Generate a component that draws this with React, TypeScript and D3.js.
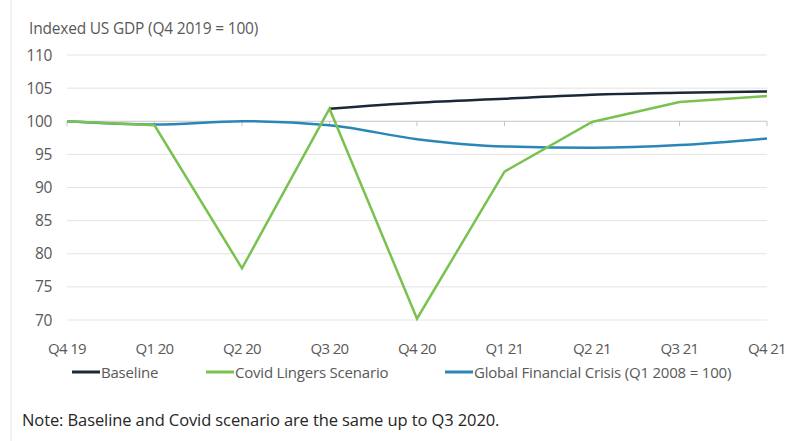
import React from "react";
import * as d3 from "d3";

const categories = ["Q4 19", "Q1 20", "Q2 20", "Q3 20", "Q4 20", "Q1 21", "Q2 21", "Q3 21", "Q4 21"];
const baseline: (number | null)[] = [null, null, null, 101.9, 102.8, 103.4, 104.0, 104.3, 104.5];
const covidLingers: number[] = [100, 99.4, 77.8, 101.9, 70.2, 92.4, 99.9, 102.9, 103.8];
const gfc: number[] = [100, 99.5, 100, 99.4, 97.3, 96.2, 96.0, 96.4, 97.4];
const yTicks = [70, 75, 80, 85, 90, 95, 100, 105, 110];

const seriesNames = ["Baseline", "Covid Lingers Scenario", "Global Financial Crisis (Q1 2008 = 100)"];
const seriesColors = ["#1b2838", "#79c24f", "#2b86b8"];

const W = 794;
const H = 441;
const FONT = "'Open Sans', 'Noto Sans', sans-serif";

export default function App() {
  const x = d3.scalePoint<string>().domain(categories).range([67, 767]);
  const y = d3.scaleLinear().domain([70, 110]).range([320, 55]);

  const mk = (vals: (number | null)[], curve: d3.CurveFactory) =>
    d3
      .line<number | null>()
      .defined((d) => d != null)
      .x((_, i) => x(categories[i]) as number)
      .y((d) => y(d as number))
      .curve(curve)(vals) || "";

  const legendItems = [
    { name: seriesNames[0], color: seriesColors[0], x0: 72 },
    { name: seriesNames[1], color: seriesColors[1], x0: 206 },
    { name: seriesNames[2], color: seriesColors[2], x0: 445 },
  ];

  return (
    <svg width={W} height={H} style={{ position: "absolute", left: 0, top: 0, background: "#fff" }}>
      <rect x={0} y={0} width={W} height={H} fill="#fff" />
      <line x1={11} x2={11} y1={0} y2={H} stroke="#e4e4e4" strokeWidth={1} />
      <text x={29} y={34} fontFamily={FONT} fontSize={15.5} fill="#595959" letterSpacing={-0.2}>
        Indexed US GDP (Q4 2019 = 100)
      </text>
      {yTicks.map((t) => (
        <g key={t}>
          {t !== 100 && (
            <line x1={67} x2={767} y1={y(t)} y2={y(t)} stroke="#e3e3e3" strokeWidth={1} />
          )}
          <text
            x={52}
            y={y(t) + 5.5}
            textAnchor="end"
            fontFamily={FONT}
            fontSize={15.5}
            fill="#595959"
            letterSpacing={-0.4}
          >
            {t}
          </text>
        </g>
      ))}
      {/* category axis crossing at 100 */}
      <line x1={67} x2={767} y1={y(100)} y2={y(100)} stroke="#c4c4c4" strokeWidth={1} />
      {categories.map((c) => (
        <g key={c}>
          <line
            x1={x(c) as number}
            x2={x(c) as number}
            y1={y(100)}
            y2={y(100) + 5}
            stroke="#c4c4c4"
            strokeWidth={1}
          />
          <text
            x={x(c) as number}
            y={354}
            textAnchor="middle"
            fontFamily={FONT}
            fontSize={15}
            fill="#595959"
            letterSpacing={-0.7}
          >
            {c}
          </text>
        </g>
      ))}
      <path d={mk(baseline, d3.curveMonotoneX)} fill="none" stroke={seriesColors[0]} strokeWidth={2.5} />
      <path d={mk(gfc, d3.curveMonotoneX)} fill="none" stroke={seriesColors[2]} strokeWidth={2.5} />
      <path d={mk(covidLingers, d3.curveLinear)} fill="none" stroke={seriesColors[1]} strokeWidth={2.5} strokeLinejoin="miter" />
      {legendItems.map((it) => (
        <g key={it.name}>
          <line x1={it.x0} x2={it.x0 + 28} y1={372} y2={372} stroke={it.color} strokeWidth={3} />
          <text
            x={it.x0 + 29}
            y={377.5}
            fontFamily={FONT}
            fontSize={15}
            fill="#595959"
            letterSpacing={-0.2}
          >
            {it.name}
          </text>
        </g>
      ))}
      <text x={22} y={426} fontFamily={FONT} fontSize={16.5} fill="#262626" letterSpacing={-0.1}>
        Note: Baseline and Covid scenario are the same up to Q3 2020.
      </text>
    </svg>
  );
}
